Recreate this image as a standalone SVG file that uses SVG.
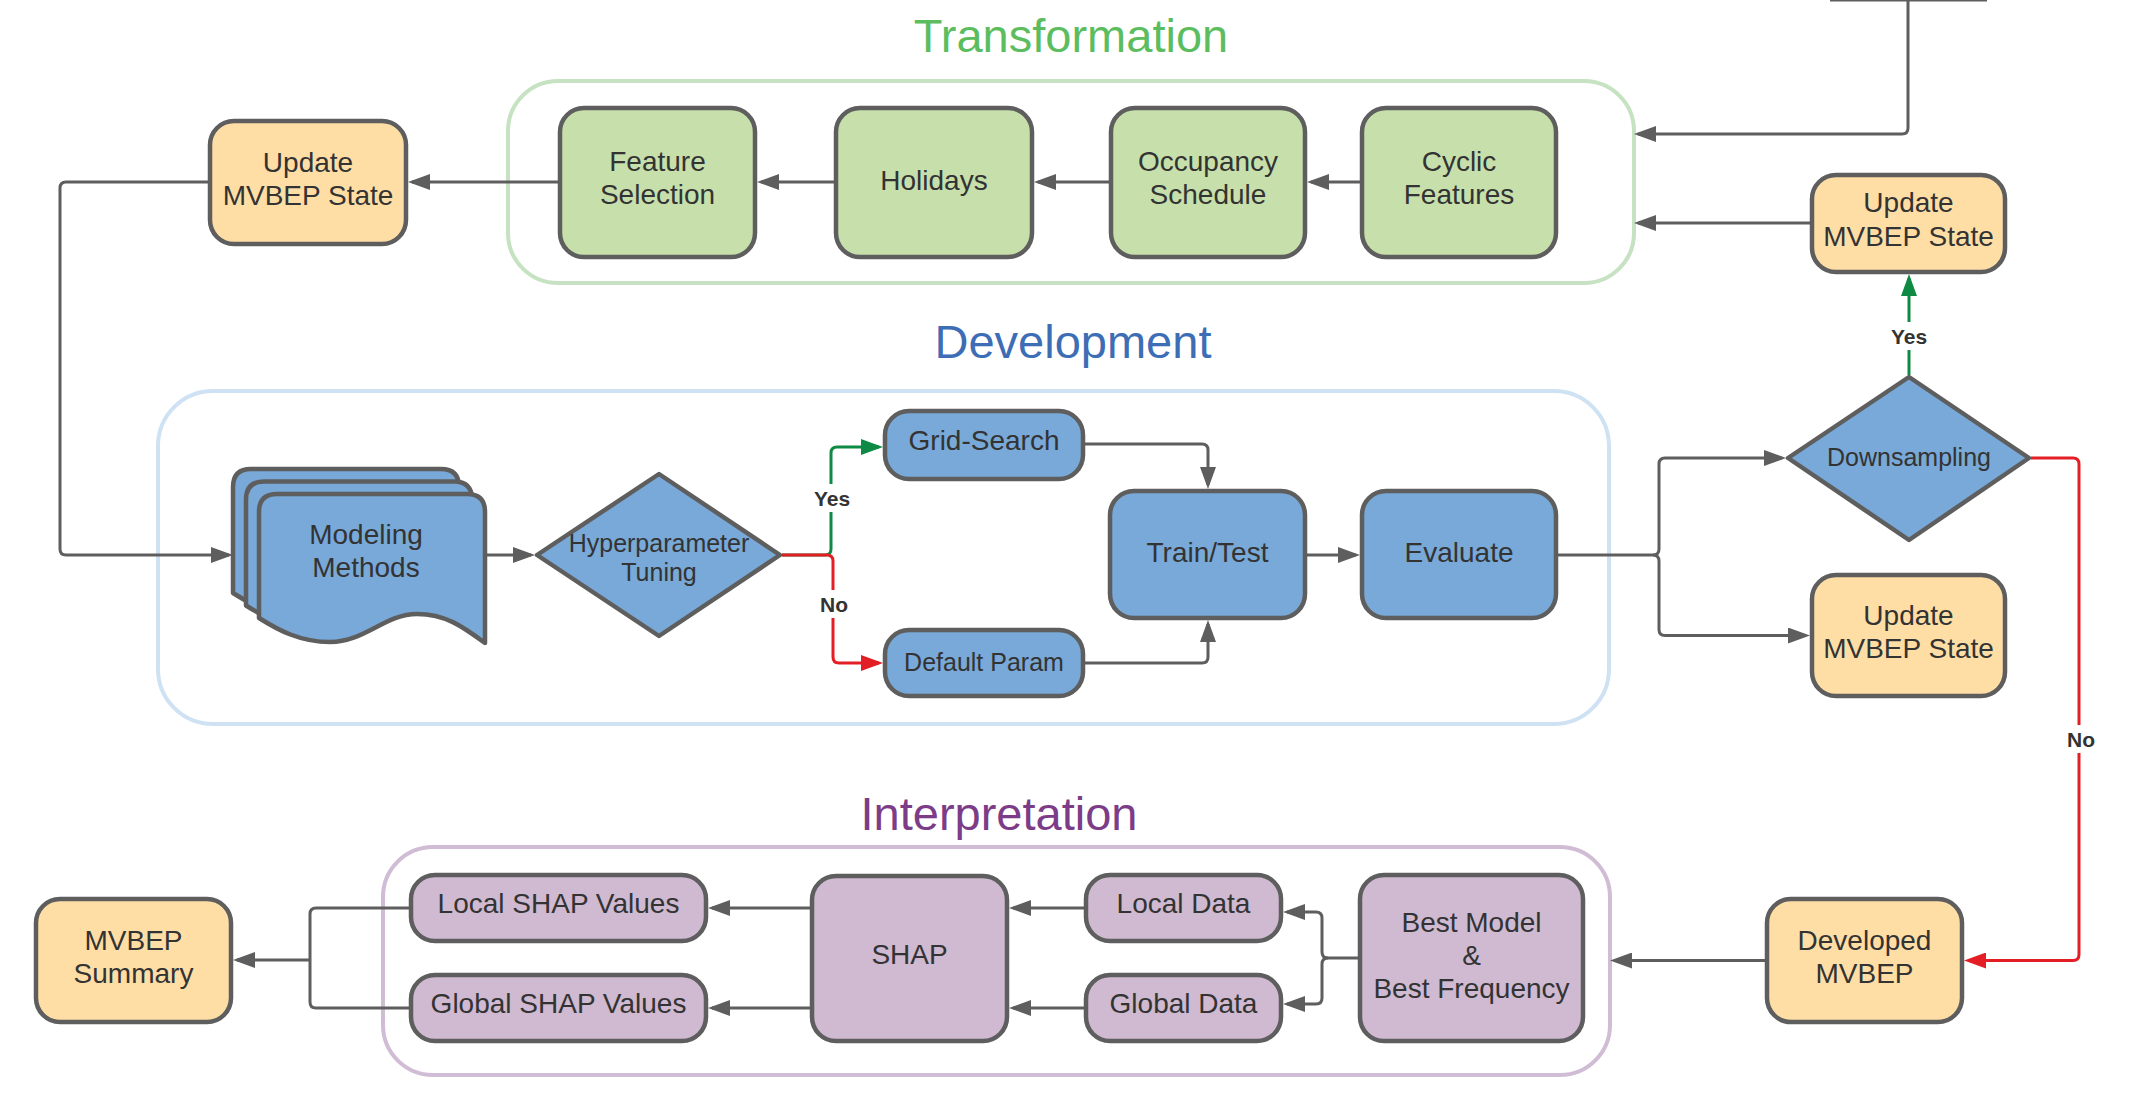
<svg xmlns="http://www.w3.org/2000/svg" width="2139" height="1095" viewBox="0 0 2139 1095">
<defs>
<style>
.nd{stroke:#5E5E5E;stroke-width:4.5;stroke-linejoin:round}
.g{fill:#C7E0AB}.b{fill:#78A9D8}.o{fill:#FFDEA6}.p{fill:#CFBAD1}
.t{font-family:"Liberation Sans",Arial,sans-serif;font-size:28px;fill:#333333;text-anchor:middle}
.s{font-size:25px}
.lb{font-family:"Liberation Sans",Arial,sans-serif;font-size:21px;font-weight:bold;fill:#333333;text-anchor:middle}
.ti{font-family:"Liberation Sans",Arial,sans-serif;font-size:47px;text-anchor:middle}
.cn{fill:none;stroke-width:4}
.c{fill:none;stroke:#5E5E5E;stroke-width:3;stroke-linejoin:round}
.cg{fill:none;stroke:#0E8A44;stroke-width:3;stroke-linejoin:round}
.cr{fill:none;stroke:#E31E24;stroke-width:3;stroke-linejoin:round}
</style>
<marker id="ag" markerUnits="userSpaceOnUse" markerWidth="22" markerHeight="16" refX="18" refY="8" orient="auto"><path d="M0,0 L22,8 L0,16 Z" fill="#5E5E5E"/></marker>
<marker id="agr" markerUnits="userSpaceOnUse" markerWidth="22" markerHeight="16" refX="18" refY="8" orient="auto"><path d="M0,0 L22,8 L0,16 Z" fill="#0E8A44"/></marker>
<marker id="ard" markerUnits="userSpaceOnUse" markerWidth="22" markerHeight="16" refX="18" refY="8" orient="auto"><path d="M0,0 L22,8 L0,16 Z" fill="#E31E24"/></marker>
</defs>
<rect width="2139" height="1095" fill="#FFFFFF"/>

<g id="containers">
<rect x="508" y="81" width="1126" height="202" rx="50" class="cn" stroke="#C6E2C2"/>
<rect x="158" y="391" width="1451" height="333" rx="55" class="cn" stroke="#CFE2F3"/>
<rect x="383" y="847" width="1227" height="228" rx="50" class="cn" stroke="#D0BCD5"/>
<text x="1071" y="52" class="ti" fill="#5CBD5F">Transformation</text>
<text x="1073" y="358" class="ti" fill="#3D6DB5">Development</text>
<text x="999" y="830" class="ti" fill="#7D3C87">Interpretation</text>
</g>

<g id="connectors">
<path d="M1830,0.5 H1987" fill="none" stroke="#5E5E5E" stroke-width="2"/>
<path d="M1908,0 V128 Q1908,134 1902,134 H1638" class="c" marker-end="url(#ag)"/>
<path d="M1810,223 H1638" class="c" marker-end="url(#ag)"/>
<path d="M1360,182 H1311" class="c" marker-end="url(#ag)"/>
<path d="M1109,182 H1038" class="c" marker-end="url(#ag)"/>
<path d="M834,182 H761" class="c" marker-end="url(#ag)"/>
<path d="M558,182 H412" class="c" marker-end="url(#ag)"/>
<path d="M208,182 H66 Q60,182 60,188 V549 Q60,555 66,555 H229" class="c" marker-end="url(#ag)"/>
<path d="M485,555 H531" class="c" marker-end="url(#ag)"/>
<path d="M782,555 H825 Q831,555 831,549 V453 Q831,447 837,447 H879" class="cg" marker-end="url(#agr)"/>
<path d="M782,555 H827 Q833,555 833,561 V657 Q833,663 839,663 H879" class="cr" marker-end="url(#ard)"/>
<path d="M1085,444 H1202 Q1208,444 1208,450 V485" class="c" marker-end="url(#ag)"/>
<path d="M1085,663 H1202 Q1208,663 1208,657 V624" class="c" marker-end="url(#ag)"/>
<path d="M1307,555 H1356" class="c" marker-end="url(#ag)"/>
<path d="M1558,555 H1653 Q1659,555 1659,549 V464 Q1659,458 1665,458 H1782" class="c" marker-end="url(#ag)"/>
<path d="M1653,555 Q1659,555 1659,561 V629.5 Q1659,635.5 1665,635.5 H1806" class="c" marker-end="url(#ag)"/>
<path d="M1909,375 V278" class="cg" marker-end="url(#agr)"/>
<path d="M2031,458 H2073 Q2079,458 2079,464 V954.5 Q2079,960.5 2073,960.5 H1968" class="cr" marker-end="url(#ard)"/>
<path d="M1765,960.5 H1614" class="c" marker-end="url(#ag)"/>
<path d="M1358,958 H1328 Q1322,958 1322,952 V918 Q1322,912 1316,912 H1287" class="c" marker-end="url(#ag)"/>
<path d="M1328,958 Q1322,958 1322,964 V998 Q1322,1004 1316,1004 H1287" class="c" marker-end="url(#ag)"/>
<path d="M1084,908 H1013" class="c" marker-end="url(#ag)"/>
<path d="M1084,1008 H1013" class="c" marker-end="url(#ag)"/>
<path d="M810,908 H712" class="c" marker-end="url(#ag)"/>
<path d="M810,1008 H712" class="c" marker-end="url(#ag)"/>
<path d="M409,908 H316 Q310,908 310,914 V1002 Q310,1008 316,1008 H409" class="c"/>
<path d="M310,960 H237" class="c" marker-end="url(#ag)"/>
<rect x="812" y="484" width="40" height="28" fill="#FFFFFF"/>
<text x="832" y="506" class="lb">Yes</text>
<rect x="816" y="590" width="36" height="28" fill="#FFFFFF"/>
<text x="834" y="612" class="lb">No</text>
<rect x="1889" y="322" width="40" height="28" fill="#FFFFFF"/>
<text x="1909" y="344" class="lb">Yes</text>
<rect x="2063" y="725" width="36" height="28" fill="#FFFFFF"/>
<text x="2081" y="747" class="lb">No</text>
</g>

<g id="update-state-1">
<rect x="210" y="121" width="196" height="123" rx="24" class="nd o"/>
<text x="308" y="172" class="t">Update</text>
<text x="308" y="205" class="t">MVBEP State</text>
</g>
<g id="feature-selection">
<rect x="560" y="108" width="195" height="149" rx="24" class="nd g"/>
<text x="657.5" y="171" class="t">Feature</text>
<text x="657.5" y="204" class="t">Selection</text>
</g>
<g id="holidays">
<rect x="836" y="108" width="196" height="149" rx="24" class="nd g"/>
<text x="934" y="190" class="t">Holidays</text>
</g>
<g id="occupancy-schedule">
<rect x="1111" y="108" width="194" height="149" rx="24" class="nd g"/>
<text x="1208" y="171" class="t">Occupancy</text>
<text x="1208" y="204" class="t">Schedule</text>
</g>
<g id="cyclic-features">
<rect x="1362" y="108" width="194" height="149" rx="24" class="nd g"/>
<text x="1459" y="171" class="t">Cyclic</text>
<text x="1459" y="204" class="t">Features</text>
</g>
<g id="update-state-2">
<rect x="1812" y="175" width="193" height="97" rx="24" class="nd o"/>
<text x="1908.5" y="212" class="t">Update</text>
<text x="1908.5" y="246" class="t">MVBEP State</text>
</g>

<g id="modeling-methods">
<path d="M259,512 Q259,494 277,494 L467,494 Q485,494 485,512 L485,643 C462,626 445,614 417,614 C385,614 365,642 330,642 C300,642 278,630 259,618 Z" transform="translate(-26,-25)" class="nd b"/>
<path d="M259,512 Q259,494 277,494 L467,494 Q485,494 485,512 L485,643 C462,626 445,614 417,614 C385,614 365,642 330,642 C300,642 278,630 259,618 Z" transform="translate(-13,-12.5)" class="nd b"/>
<path d="M259,512 Q259,494 277,494 L467,494 Q485,494 485,512 L485,643 C462,626 445,614 417,614 C385,614 365,642 330,642 C300,642 278,630 259,618 Z" class="nd b"/>
<text x="366" y="544" class="t">Modeling</text>
<text x="366" y="577" class="t">Methods</text>
</g>
<g id="hyperparameter-tuning">
<polygon points="659,474 780,555 659,636 537,555" class="nd b"/>
<text x="659" y="552" class="t s">Hyperparameter</text>
<text x="659" y="581" class="t s">Tuning</text>
</g>
<g id="grid-search">
<rect x="885" y="411" width="198" height="68" rx="24" class="nd b"/>
<text x="984" y="450" class="t">Grid-Search</text>
</g>
<g id="default-param">
<rect x="885" y="630" width="198" height="66" rx="24" class="nd b"/>
<text x="984" y="671" class="t s">Default Param</text>
</g>
<g id="train-test">
<rect x="1110" y="491" width="195" height="127" rx="24" class="nd b"/>
<text x="1207.5" y="562" class="t">Train/Test</text>
</g>
<g id="evaluate">
<rect x="1362" y="491" width="194" height="127" rx="24" class="nd b"/>
<text x="1459" y="562" class="t">Evaluate</text>
</g>
<g id="downsampling">
<polygon points="1909,377 2029,458 1909,540 1788,458" class="nd b"/>
<text x="1909" y="466" class="t s">Downsampling</text>
</g>
<g id="update-state-3">
<rect x="1812" y="575" width="193" height="121" rx="24" class="nd o"/>
<text x="1908.5" y="625" class="t">Update</text>
<text x="1908.5" y="658" class="t">MVBEP State</text>
</g>

<g id="developed-mvbep">
<rect x="1767" y="899" width="195" height="123" rx="24" class="nd o"/>
<text x="1864.5" y="950" class="t">Developed</text>
<text x="1864.5" y="983" class="t">MVBEP</text>
</g>
<g id="best-model">
<rect x="1360" y="875" width="223" height="166" rx="24" class="nd p"/>
<text x="1471.5" y="932" class="t">Best Model</text>
<text x="1471.5" y="965" class="t">&amp;</text>
<text x="1471.5" y="998" class="t">Best Frequency</text>
</g>
<g id="local-data">
<rect x="1086" y="875" width="195" height="66" rx="24" class="nd p"/>
<text x="1183.5" y="913" class="t">Local Data</text>
</g>
<g id="global-data">
<rect x="1086" y="975" width="195" height="66" rx="24" class="nd p"/>
<text x="1183.5" y="1013" class="t">Global Data</text>
</g>
<g id="shap">
<rect x="812" y="876" width="195" height="165" rx="24" class="nd p"/>
<text x="909.5" y="964" class="t">SHAP</text>
</g>
<g id="local-shap-values">
<rect x="411" y="875" width="295" height="66" rx="24" class="nd p"/>
<text x="558.5" y="913" class="t">Local SHAP Values</text>
</g>
<g id="global-shap-values">
<rect x="411" y="975" width="295" height="66" rx="24" class="nd p"/>
<text x="558.5" y="1013" class="t">Global SHAP Values</text>
</g>
<g id="mvbep-summary">
<rect x="36" y="899" width="195" height="123" rx="24" class="nd o"/>
<text x="133.5" y="950" class="t">MVBEP</text>
<text x="133.5" y="983" class="t">Summary</text>
</g>
</svg>
